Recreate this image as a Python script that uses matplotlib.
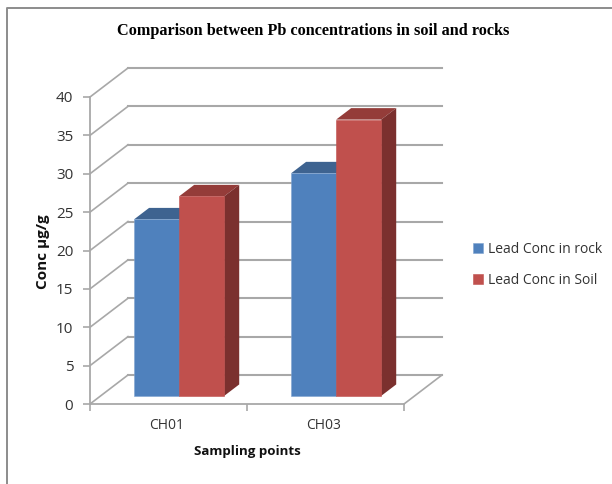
import matplotlib

matplotlib.use("Agg")
import matplotlib.pyplot as plt
from matplotlib.lines import Line2D
from matplotlib.patches import Polygon

categories = ["CH01", "CH03"]
rock_values = [23, 29]
soil_values = [26, 36]
series_labels = ["Lead Conc in rock", "Lead Conc in Soil"]
y_ticks = list(range(0, 45, 5))

GRID = "#a8a8a8"
TEXT = "#333333"
BLUE = ("#4f81bd", "#3e6390", "#35557c")
RED = ("#c0504d", "#943c39", "#7b302e")

W, H = 612, 484
AX_LEFT, AX_RIGHT, AX_TOP, AX_BOTTOM = 90, 404, 97, 404
DEPTH_X, DEPTH_Y = 38, 29  # px offset of the back wall
BAR_WIDTH = 0.287
BAR_NEAR, BAR_FAR = 0.28, 0.675


def oblique(x, y, d):
    """Shift a data point back by depth d (0 front, 1 back wall)."""
    dx = d * DEPTH_X * 2 / (AX_RIGHT - AX_LEFT)
    dy = d * DEPTH_Y * 40 / (AX_BOTTOM - AX_TOP)
    return x + dx, y + dy


def draw_bar(ax, x0, x1, value, colors, label):
    front, top, side = colors
    fx0, fy0 = oblique(x0, 0, BAR_NEAR)
    fx1, _ = oblique(x1, 0, BAR_NEAR)
    ax.bar(fx0, value, width=fx1 - fx0, bottom=fy0, align="edge", color=front,
           edgecolor="#7fa3cf" if front == BLUE[0] else front, linewidth=0.4,
           clip_on=False, zorder=3, label=label)
    top_pts = [oblique(x0, value, BAR_NEAR), oblique(x1, value, BAR_NEAR),
               oblique(x1, value, BAR_FAR), oblique(x0, value, BAR_FAR)]
    side_pts = [oblique(x1, 0, BAR_NEAR), oblique(x1, value, BAR_NEAR),
                oblique(x1, value, BAR_FAR), oblique(x1, 0, BAR_FAR)]
    ax.add_patch(Polygon(top_pts, color=top, lw=0, clip_on=False, zorder=2.5))
    ax.add_patch(Polygon(side_pts, color=side, lw=0, clip_on=False, zorder=2.5))


fig = plt.figure(figsize=(W / 100, H / 100), dpi=100)
ax = fig.add_axes([AX_LEFT / W, 1 - AX_BOTTOM / H,
                   (AX_RIGHT - AX_LEFT) / W, (AX_BOTTOM - AX_TOP) / H])
ax.set_xlim(0, 2)
ax.set_ylim(0, 40)

# back wall, side wall and floor
for tick in y_ticks:
    bx0, by = oblique(0, tick, 1)
    bx1, _ = oblique(2, tick, 1)
    ax.plot([bx0, bx1], [by, by], color=GRID, lw=1.5, clip_on=False, zorder=1)
    ax.plot([0, bx0], [tick, by], color=GRID, lw=1.2, clip_on=False, zorder=1)
bx, by = oblique(2, 0, 1)
ax.plot([2, bx], [0, by], color=GRID, lw=1.2, clip_on=False, zorder=1)

for i in range(len(categories)):
    centre = i + 0.5
    draw_bar(ax, centre - BAR_WIDTH, centre, rock_values[i], BLUE,
             series_labels[0] if i == 0 else None)
    draw_bar(ax, centre, centre + BAR_WIDTH, soil_values[i], RED,
             series_labels[1] if i == 0 else None)

for name in ("top", "right"):
    ax.spines[name].set_visible(False)
for name in ("left", "bottom"):
    ax.spines[name].set_color(GRID)
    ax.spines[name].set_linewidth(1.3)
    ax.spines[name].set_zorder(1.5)

body_font = ["Open Sans", "DejaVu Sans"]
ax.set_yticks(y_ticks)
ax.set_yticklabels([str(t) for t in y_ticks], fontsize=11, color=TEXT, family=body_font)
ax.set_xticks([0, 1, 2])
ax.set_xticklabels([])
ax.set_xticks([0.5 - 0.01, 1.5 - 0.01], minor=True)
ax.set_xticklabels(categories, minor=True, fontsize=10, color=TEXT, family=body_font)
ax.tick_params(axis="both", which="major", length=5, width=1.2, color=GRID)
ax.tick_params(axis="y", pad=7)
ax.tick_params(axis="x", which="minor", length=0, pad=10)

fig.text(43 / W, 1 - 252 / H, "Conc µg/g", rotation=90, ha="center", va="center",
         fontsize=11, fontweight="bold", color="#111111", family=body_font)
fig.text(247 / W, 1 - 451 / H, "Sampling points", ha="center", va="center",
         fontsize=9.6, fontweight="bold", color="#111111", family=body_font)
fig.text(313 / W, 1 - 31 / H, "Comparison between Pb concentrations in soil and rocks",
         ha="center", va="center", fontsize=11.7, fontweight="bold", color="black",
         family="Liberation Serif")

fig.legend(loc="center left", bbox_to_anchor=(473 / W, 1 - 265 / H), frameon=False,
           handlelength=0.75, handleheight=0.75, handletextpad=0.3, labelspacing=1.15,
           borderpad=0, borderaxespad=0,
           prop={"family": body_font, "size": 10}, labelcolor=TEXT)

# chart frame, only the top and left edges fall inside the crop
fig.add_artist(Line2D([7 / W, 7 / W, 1], [0, 1 - 8 / H, 1 - 8 / H],
                      color="#8c8c8c", lw=1.4))

fig.savefig("out.png", dpi=100)
plt.close(fig)
